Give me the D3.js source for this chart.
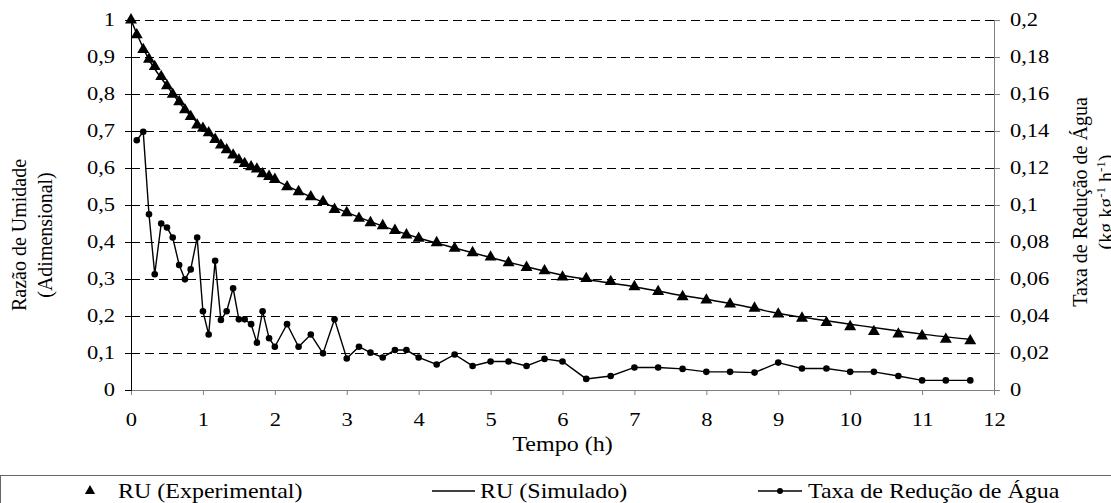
<!DOCTYPE html>
<html>
<head>
<meta charset="utf-8">
<script src="https://cdnjs.cloudflare.com/ajax/libs/d3/7.8.5/d3.min.js"></script>
</head>
<body style="margin:0; background:#fff">
<script>
// DATA
const tempo = [0, 0.08, 0.17, 0.25, 0.33, 0.42, 0.5, 0.58, 0.67, 0.75, 0.83, 0.92, 1, 1.08, 1.17, 1.25, 1.33, 1.42, 1.5, 1.58, 1.67, 1.75, 1.83, 1.92, 2,
	2.17, 2.33, 2.5, 2.67, 2.83, 3, 3.17, 3.33, 3.5, 3.67, 3.83, 4,
	4.25, 4.5, 4.75, 5, 5.25, 5.5, 5.75, 6,
	6.33, 6.67, 7, 7.33, 7.67, 8, 8.33, 8.67, 9, 9.33, 9.67, 10, 10.33, 10.67, 11, 11.33, 11.67];
const ruExperimental = [1, 0.96, 0.92, 0.894, 0.874, 0.847, 0.822, 0.799, 0.779, 0.757, 0.739, 0.716, 0.707, 0.695, 0.677, 0.662, 0.649, 0.635, 0.622, 0.612, 0.603, 0.597, 0.584, 0.577, 0.569,
	0.549, 0.536, 0.522, 0.509, 0.488, 0.479, 0.464, 0.452, 0.444, 0.431, 0.419, 0.41,
	0.398, 0.383, 0.371, 0.359, 0.344, 0.331, 0.322, 0.305,
	0.301, 0.293, 0.279, 0.266, 0.252, 0.243, 0.232, 0.221, 0.205, 0.194, 0.182, 0.171, 0.158, 0.151, 0.146, 0.137, 0.133];
const tempoSimulado = [0, 0.25, 0.5, 0.75, 1, 1.25, 1.5, 1.75, 2, 2.5, 3, 3.5, 4, 4.5, 5, 5.5, 6, 6.5, 7, 7.5, 8, 8.5, 9, 9.5, 10, 10.5, 11, 11.67];
const ruSimulado = [1, 0.893, 0.822, 0.758, 0.708, 0.662, 0.623, 0.594, 0.568, 0.522, 0.48, 0.443, 0.411, 0.384, 0.358, 0.333, 0.31, 0.294, 0.279, 0.261, 0.245, 0.228, 0.207, 0.192, 0.178, 0.164, 0.151, 0.137];
// rate is measured from the second reading on
const tempoTaxa = tempo.slice(1);
const taxaReducao = [0.135, 0.1396, 0.095, 0.0626, 0.09, 0.0878, 0.0824, 0.0676, 0.0598, 0.0652, 0.0824, 0.0426, 0.03, 0.0698, 0.0378, 0.0426, 0.055, 0.0382, 0.0382, 0.0356, 0.0256, 0.0426, 0.028, 0.0234,
	0.0356, 0.0234, 0.03, 0.0198, 0.0382, 0.017, 0.0234, 0.0202, 0.0176, 0.0216, 0.0216, 0.0176,
	0.0138, 0.0192, 0.013, 0.0154, 0.0154, 0.013, 0.0168, 0.0154,
	0.006, 0.0076, 0.0122, 0.0122, 0.0114, 0.0098, 0.0098, 0.0094, 0.0148, 0.0116, 0.0116, 0.0098, 0.0098, 0.0076, 0.0052, 0.0052, 0.0052];
const ticksX = [0, 1, 2, 3, 4, 5, 6, 7, 8, 9, 10, 11, 12];
const ticksLeft = [0, 0.1, 0.2, 0.3, 0.4, 0.5, 0.6, 0.7, 0.8, 0.9, 1];
const ticksRight = [0, 0.02, 0.04, 0.06, 0.08, 0.1, 0.12, 0.14, 0.16, 0.18, 0.2];
const legendLabels = ['RU (Experimental)', 'RU (Simulado)', 'Taxa de Redução de Água'];

// CONFIGURATION
const width = 1111;
const height = 503;
const margin = { top: 20, right: 117, bottom: 113, left: 131 };
const font = 'Liberation Serif';
const stretchTick = 1.25;   // the source's horizontal text is wider than plain Times
const stretchText = 1.2;
const ptBR = d3.formatLocale({ decimal: ',', thousands: '.', grouping: [3], currency: ['R$', ''] });
const fmt = ptBR.format('~g');

const xScale = d3.scaleLinear().domain([0, 12]).range([margin.left, width - margin.right]);
const yLeft = d3.scaleLinear().domain([0, 1]).range([height - margin.bottom, margin.top]);
const yRight = d3.scaleLinear().domain([0, 0.2]).range([height - margin.bottom, margin.top]);

const svg = d3.select('body')
	.append('svg')
	.attr('width', width)
	.attr('height', height)
	.style('display', 'block');

// GRID
svg.append('g')
	.selectAll('line')
	.data(ticksLeft.slice(1))
	.enter()
	.append('line')
	.attr('x1', xScale(0))
	.attr('x2', xScale(12))
	.attr('y1', function(d) { return Math.round(yLeft(d)) + 0.5; })
	.attr('y2', function(d) { return Math.round(yLeft(d)) + 0.5; })
	.attr('stroke', '#000')
	.attr('stroke-dasharray', '9,5');

// AXES
const xAxis = svg.append('g')
	.attr('transform', `translate(0, ${yLeft(0)})`)
	.call(d3.axisBottom(xScale).tickValues(ticksX).tickSize(5).tickPadding(18).tickFormat(fmt));
const leftAxis = svg.append('g')
	.attr('transform', `translate(${xScale(0)}, 0)`)
	.call(d3.axisLeft(yLeft).tickValues(ticksLeft).tickSize(6).tickPadding(10).tickFormat(fmt));
const rightAxis = svg.append('g')
	.attr('transform', `translate(${xScale(12)}, 0)`)
	.call(d3.axisRight(yRight).tickValues(ticksRight).tickSize(6).tickPadding(10).tickFormat(fmt));

[xAxis, leftAxis, rightAxis].forEach(function(g) {
	g.attr('font-family', font).attr('font-size', 18);
	g.select('.domain').attr('stroke', '#808080');
	g.selectAll('.tick line').attr('stroke', '#808080');
	g.selectAll('.tick text')
		.attr('fill', '#000')
		.attr('font-family', font)
		.attr('font-size', 18)
		.attr('transform', `scale(${stretchTick}, 1)`);
});
leftAxis.select('.domain').attr('stroke', '#000');
leftAxis.selectAll('.tick line').attr('stroke', '#000');
leftAxis.selectAll('.tick text').attr('x', -16 / stretchTick);
rightAxis.selectAll('.tick text').attr('x', 16 / stretchTick);

// AXIS TITLES
svg.append('text')
	.attr('transform', `translate(${xScale(6)}, 451) scale(${stretchText}, 1)`)
	.attr('text-anchor', 'middle')
	.attr('font-family', font)
	.attr('font-size', 20)
	.text('Tempo (h)');

const leftTitle = svg.append('text')
	.attr('transform', 'translate(26, 235) rotate(-90)')
	.attr('text-anchor', 'middle')
	.attr('font-family', font)
	.attr('font-size', 20);
leftTitle.append('tspan').attr('x', 0).attr('y', 0).text('Razão de Umidade');
leftTitle.append('tspan').attr('x', 0).attr('y', 26).text('(Adimensional)');

svg.append('text')
	.attr('transform', 'translate(1087, 202) rotate(-90)')
	.attr('text-anchor', 'middle')
	.attr('font-family', font)
	.attr('font-size', 20)
	.text('Taxa de Redução de Água');
const unit = svg.append('text')
	.attr('transform', 'translate(1113, 202) rotate(-90)')
	.attr('text-anchor', 'middle')
	.attr('font-family', font)
	.attr('font-size', 20);
unit.append('tspan').text('(kg kg');
unit.append('tspan').attr('dy', -8).attr('font-size', 13).text('-1');
unit.append('tspan').attr('dy', 8).text(' h');
unit.append('tspan').attr('dy', -8).attr('font-size', 13).text('-1');
unit.append('tspan').attr('dy', 8).text(')');

// SERIES
const simLine = d3.line()
	.curve(d3.curveMonotoneX)
	.x(function(d, i) { return xScale(tempoSimulado[i]); })
	.y(function(d) { return yLeft(d); });
svg.append('path')
	.datum(ruSimulado)
	.attr('d', simLine)
	.attr('fill', 'none')
	.attr('stroke', '#000')
	.attr('stroke-width', 1.5);

const taxaLine = d3.line()
	.x(function(d, i) { return xScale(tempoTaxa[i]); })
	.y(function(d) { return yRight(d); });
svg.append('path')
	.datum(taxaReducao)
	.attr('d', taxaLine)
	.attr('fill', 'none')
	.attr('stroke', '#000')
	.attr('stroke-width', 1.4);
svg.append('g')
	.selectAll('circle')
	.data(taxaReducao)
	.enter()
	.append('circle')
	.attr('cx', function(d, i) { return xScale(tempoTaxa[i]); })
	.attr('cy', function(d) { return yRight(d); })
	.attr('r', 3.3)
	.attr('fill', '#000');

const triangle = d3.symbol().type(d3.symbolTriangle).size(62);
svg.append('g')
	.selectAll('path')
	.data(ruExperimental)
	.enter()
	.append('path')
	.attr('d', triangle)
	.attr('transform', function(d, i) { return `translate(${xScale(tempo[i])}, ${yLeft(d)})`; })
	.attr('fill', '#000');

// LEGEND
const legend = svg.append('g');
legend.append('rect')
	.attr('x', 0.5)
	.attr('y', 475.5)
	.attr('width', 1130)
	.attr('height', 60)
	.attr('fill', 'none')
	.attr('stroke', '#666');

legend.append('path')
	.attr('d', d3.symbol().type(d3.symbolTriangle).size(45))
	.attr('transform', 'translate(90, 491)')
	.attr('fill', '#000');
legend.append('line')
	.attr('x1', 432).attr('x2', 475)
	.attr('y1', 491).attr('y2', 491)
	.attr('stroke', '#000')
	.attr('stroke-width', 1.5);
legend.append('line')
	.attr('x1', 758).attr('x2', 802)
	.attr('y1', 491).attr('y2', 491)
	.attr('stroke', '#000')
	.attr('stroke-width', 1.4);
legend.append('circle')
	.attr('cx', 780).attr('cy', 491).attr('r', 3)
	.attr('fill', '#000');

legend.selectAll('text')
	.data(legendLabels)
	.enter()
	.append('text')
	.attr('transform', function(d, i) { return `translate(${[118, 480, 808][i]}, 498) scale(${stretchText}, 1)`; })
	.attr('font-family', font)
	.attr('font-size', 20)
	.text(function(d) { return d; });
</script>
</body>
</html>
